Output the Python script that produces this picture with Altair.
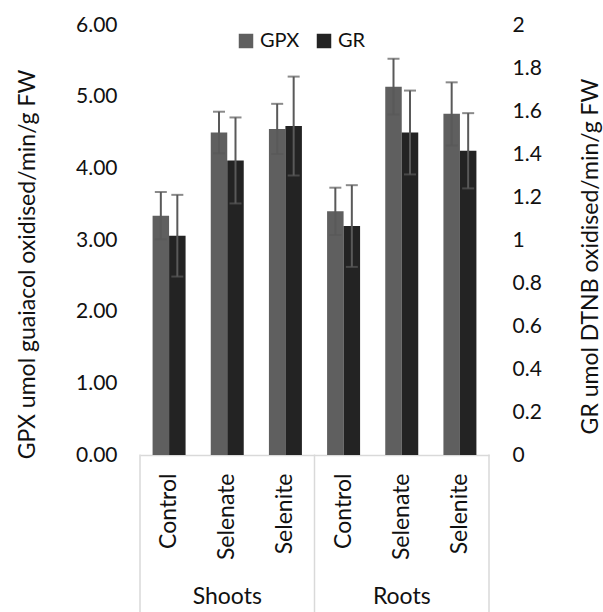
import altair as alt
import pandas as pd

groups = ["Shoots", "Shoots", "Shoots", "Roots", "Roots", "Roots"]
treatments = ["Control", "Selenate", "Selenite", "Control", "Selenate", "Selenite"]
gpx = [3.34, 4.50, 4.55, 3.40, 5.14, 4.76]
gpx_err = [0.33, 0.29, 0.35, 0.33, 0.39, 0.44]
gr = [1.02, 1.37, 1.53, 1.065, 1.50, 1.415]
gr_err = [0.19, 0.20, 0.23, 0.19, 0.195, 0.175]
series = ["GPX", "GR"]
colors = ["#5f5f5f", "#232323"]
left_ticks = [0, 1, 2, 3, 4, 5, 6]
right_ticks = [0, 0.2, 0.4, 0.6, 0.8, 1.0, 1.2, 1.4, 1.6, 1.8, 2.0]

keys = [g + "|" + t for g, t in zip(groups, treatments)]

def frame(name, vals, errs):
    return pd.DataFrame({
        "key": keys,
        "series": name,
        "value": vals,
        "lo": [v - e for v, e in zip(vals, errs)],
        "hi": [v + e for v, e in zip(vals, errs)],
    })

d_gpx = frame("GPX", gpx, gpx_err)
d_gr = frame("GR", gr, gr_err)

FONT = "Lato"
FS_TICK = 21
FS_CAT = 23
FS_TITLE = 23
FS_LEG = 20
TXT = "#111111"

xscale = alt.Scale(domain=keys, paddingInner=0, paddingOuter=0)
xoff = alt.XOffset("series:N", scale=alt.Scale(domain=series, paddingOuter=0.763, paddingInner=0))
color = alt.Color("series:N", scale=alt.Scale(domain=series, range=colors),
                  legend=alt.Legend(orient="none", legendX=96, legendY=6, direction="horizontal",
                                    title=None, symbolType="square", symbolSize=210,
                                    symbolStrokeWidth=0, labelFontSize=FS_LEG, labelFont=FONT,
                                    labelColor=TXT, columnPadding=14, labelOffset=4, padding=0))

xaxis = alt.X("key:N", scale=xscale, sort=keys,
              axis=alt.Axis(title=None, labelExpr="split(datum.label, '|')[1]", labelAngle=270,
                            labelAlign="right", labelBaseline="middle", labelPadding=18,
                            labelFont=FONT, labelFontSize=FS_CAT, labelColor=TXT, ticks=False,
                            domainColor="#d9d9d9", domainWidth=1.5))

ERR = "#595959"

def layer(df, name, domain_max, ticks, fmt, orient, title, tx, ty):
    yscale = alt.Scale(domain=[0, domain_max], nice=False)
    yaxis = alt.Axis(title=title, orient=orient, values=ticks, format=fmt, grid=False, domain=False,
                     ticks=False, labelPadding=23, labelFont=FONT, labelFontSize=FS_TICK, labelColor=TXT,
                     titleFont=FONT, titleFontSize=FS_TITLE, titleFontWeight="normal", titleColor=TXT,
                     titleAngle=270, titleX=tx, titleY=ty, titleAlign="center", titleBaseline="middle")
    base = alt.Chart(df)
    bars = base.mark_bar().encode(x=xaxis, xOffset=xoff, y=alt.Y("value:Q", scale=yscale, axis=yaxis),
                                   color=color)
    rules = base.mark_rule(color=ERR, strokeWidth=2).encode(
        x=alt.X("key:N", scale=xscale, sort=keys), xOffset=xoff,
        y=alt.Y("lo:Q", scale=yscale), y2="hi:Q")
    caps_hi = base.mark_tick(color=ERR, size=12, thickness=2, orient="horizontal").encode(
        x=alt.X("key:N", scale=xscale, sort=keys), xOffset=xoff, y=alt.Y("hi:Q", scale=yscale))
    caps_lo = base.mark_tick(color=ERR, size=12, thickness=2, orient="horizontal").encode(
        x=alt.X("key:N", scale=xscale, sort=keys), xOffset=xoff, y=alt.Y("lo:Q", scale=yscale))
    return alt.layer(bars, rules, caps_hi, caps_lo)

left = layer(d_gpx, "GPX", 6, left_ticks, ".2f", "left", "GPX umol guaiacol oxidised/min/g FW", -113, 239)
right = layer(d_gr, "GR", 2, right_ticks, ".1~f", "right", "GR umol DTNB oxidised/min/g FW", 101, 231)

# group separators and labels
sep_df = pd.DataFrame({"key": [keys[0], keys[3], keys[5]]})
seps = alt.Chart(sep_df.iloc[[0, 1]]).mark_rule(color="#d9d9d9", strokeWidth=1.5).encode(
    x=alt.X("key:N", scale=xscale, sort=keys, bandPosition=0),
    y=alt.value(429.5), y2=alt.value(590))
sep_r = alt.Chart(sep_df.iloc[[2]]).mark_rule(color="#d9d9d9", strokeWidth=1.5).encode(
    x=alt.X("key:N", scale=xscale, sort=keys, bandPosition=1),
    y=alt.value(429.5), y2=alt.value(590))
grp_df = pd.DataFrame({"key": [keys[1], keys[4]], "group": ["Shoots", "Roots"]})
grp = alt.Chart(grp_df).mark_text(font=FONT, fontSize=FS_CAT, color=TXT, baseline="alphabetic").encode(
    x=alt.X("key:N", scale=xscale, sort=keys), y=alt.value(579), text="group:N")
deco = alt.layer(seps, sep_r, grp)

chart = alt.layer(left, right, deco).resolve_scale(y="independent").properties(
    width=349, height=430,
    padding={"left": 140, "top": 25, "right": 114, "bottom": 157},
    autosize=alt.AutoSizeParams(type="none"),
).configure_view(stroke=None)

chart.save("out.html", embed_options={"renderer": "svg", "actions": False})
